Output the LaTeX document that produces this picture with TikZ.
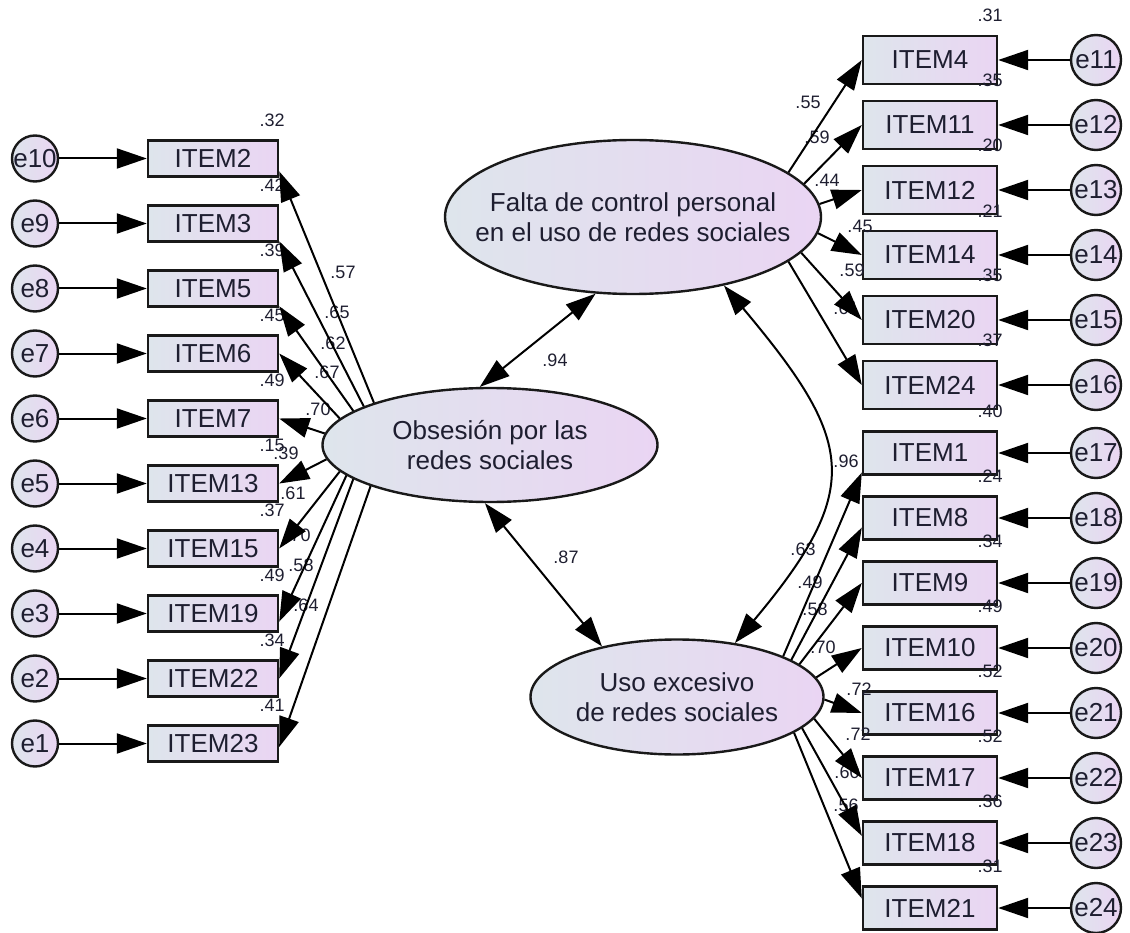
\documentclass[tikz,border=0pt]{standalone}
\usepackage{fontspec}
\setmainfont{Liberation Sans}
\usetikzlibrary{arrows.meta, positioning, calc, shapes.geometric}
\definecolor{fillleft}{RGB}{222,229,236}
\definecolor{fillright}{RGB}{234,213,243}
\definecolor{inkcolor}{RGB}{30,30,48}

\begin{document}
\begin{tikzpicture}[
    x=1pt, y=-1pt,
    every node/.style={font=\fontsize{26}{30}\selectfont, text=inkcolor},
    lilac/.style={draw=black!90, line width=2.4pt, left color=fillleft, right color=fillright},
    latent/.style={ellipse, lilac, align=center, inner sep=-30pt},
    itembox/.style={rectangle, lilac, minimum width=130pt, minimum height=36pt, inner sep=0pt},
    errc/.style={circle, lilac, minimum size=46pt, inner sep=-4pt},
    coef/.style={font=\fontsize{18}{18}\selectfont, inner sep=0pt},
    arrow/.style={-{Triangle[length=30pt, width=20pt]}, line width=2pt},
    biarrow/.style={{Triangle[length=30pt, width=20pt]}-{Triangle[length=30pt, width=20pt]}, line width=2pt}
]
    \useasboundingbox (0,0) rectangle (1130,933);

    % factors
    \node[latent, minimum width=335pt, minimum height=114pt] (obs) at (490,445) {Obsesión por las\\redes sociales};
    \node[latent, minimum width=376pt, minimum height=154pt] (falta) at (633,217) {Falta de control personal\\en el uso de redes sociales};
    \node[latent, minimum width=293pt, minimum height=115pt] (uso) at (677,697) {Uso excesivo\\de redes sociales};

    % left items
    \foreach \n/\ee/\yy/\rsq/\lam/\lx/\ly in {
        2/10/158.5/.32/.57/343/272, 3/9/223.5/.42/.65/337/312, 5/8/288.5/.39/.62/333/343,
        6/7/353.5/.45/.67/327/372, 7/6/418.5/.49/.70/318/409, 13/5/483.5/.15/.39/286/453,
        15/4/548.5/.37/.61/293/493, 19/3/613.5/.49/.70/298/535, 22/2/678.5/.34/.58/301/565,
        23/1/743.5/.41/.64/306/605}{
        \node[itembox] (it\n) at (213,\yy) {ITEM\n};
        \node[errc] (e\ee) at (35,\yy) {e\ee};
        \node[coef] (r\n) at ($(it\n.north east)+(-7,-19)$) {\rsq};
        \node[coef] (l\n) at (\lx,\ly) {\lam};
    }

    % right items, first block
    \foreach \n/\ee/\yy/\rsq/\lam/\lx/\ly in {
        4/11/60/.31/.55/808/102, 11/12/125/.35/.59/817/137, 12/13/190/.20/.44/827/180,
        14/14/255/.21/.45/860/226, 20/15/320/.35/.59/852/270, 24/16/385/.37/.61/846/308}{
        \node[itembox, minimum width=134pt, minimum height=48pt] (it\n) at (930,\yy) {ITEM\n};
        \node[errc, minimum size=50pt] (e\ee) at (1096,\yy) {e\ee};
        \node[coef] (r\n) at ($(it\n.north east)+(-8,-19)$) {\rsq};
        \node[coef] (l\n) at (\lx,\ly) {\lam};
    }

    % right items, second block
    \foreach \n/\ee/\yy/\rsq/\lam/\lx/\ly in {
        1/17/453/.40/.63/803/549, 8/18/518/.24/.49/810/582, 9/19/583/.34/.58/815/609,
        10/20/648/.49/.70/823/647, 16/21/713/.52/.72/859/689, 17/22/778/.52/.72/858/734,
        18/23/843/.36/.60/847/772, 21/24/908/.31/.56/846/805}{
        \node[itembox, minimum width=134pt, minimum height=43pt] (it\n) at (930,\yy) {ITEM\n};
        \node[errc, minimum size=50pt] (e\ee) at (1096,\yy) {e\ee};
        \node[coef] (r\n) at ($(it\n.north east)+(-8,-19)$) {\rsq};
        \node[coef] (l\n) at (\lx,\ly) {\lam};
    }

    % correlations
    \node[coef] (c94) at (555,360) {.94};
    \node[coef] (c87) at (566,557) {.87};
    \node[coef] (c96) at (846,461) {.96};

    \foreach \n/\ee/\sa/\ea in {2/10/160/349, 3/9/163/345, 5/8/166/345, 6/7/170/0, 7/6/176/0,
        13/5/185/0, 15/4/190/0, 19/3/192/353, 22/2/194/0, 23/1/199/357}{
        \draw[arrow] (e\ee) -- (it\n);
        \draw[arrow] (obs.\sa) -- (it\n.\ea);
    }
    \foreach \n/\ee/\sa in {4/11/16, 11/12/11, 12/13/4, 14/14/355, 20/15/348, 24/16/344}{
        \draw[arrow] (e\ee) -- (it\n);
        \draw[arrow] (falta.\sa) -- (it\n.west);
    }
    \foreach \n/\ee/\sa/\ea in {1/17/21/196, 8/18/18/188, 9/19/15/180, 10/20/8/180,
        16/21/359/180, 17/22/351/180, 18/23/346/174, 21/24/343/172}{
        \draw[arrow] (e\ee) -- (it\n);
        \draw[arrow] (uso.\sa) -- (it\n.\ea);
    }

    \draw[biarrow] (obs.100) -- (falta.244);
    \draw[biarrow] (obs.265) -- (uso.146);
    \draw[biarrow] (falta.323) .. controls +(130,155) and +(130,-155) .. (uso.43);
\end{tikzpicture}
\end{document}
